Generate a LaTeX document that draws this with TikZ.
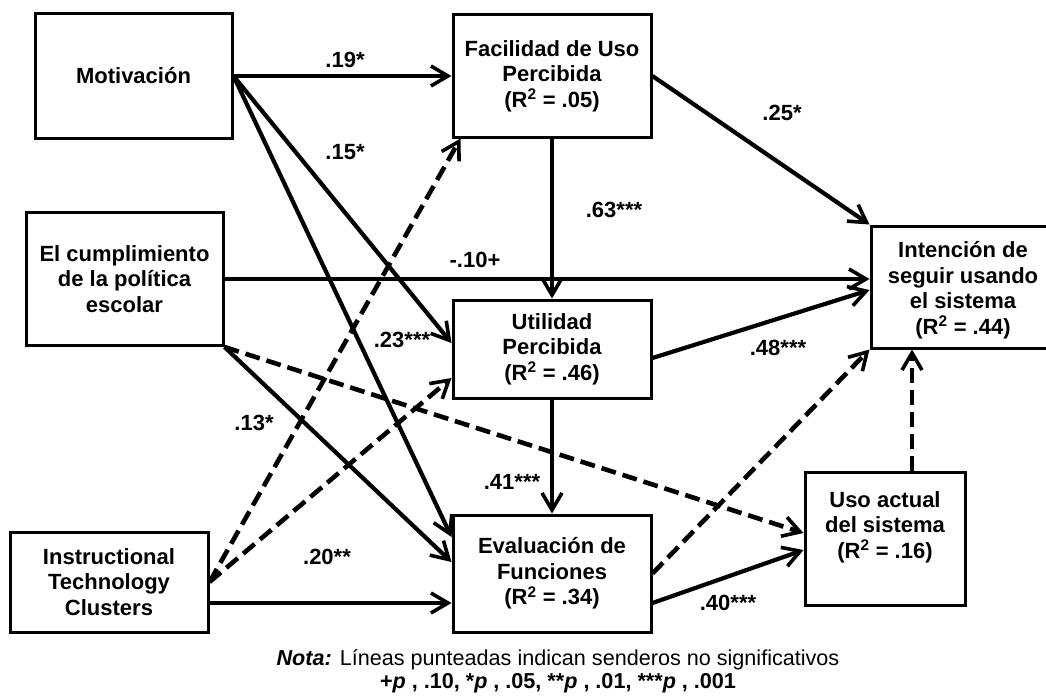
\documentclass[tikz,border=0pt]{standalone}
\usepackage{fontspec}
\setmainfont{Liberation Sans}
\usetikzlibrary{arrows.meta}
\begin{document}
\begin{tikzpicture}[x=1pt,y=-1pt,
  lbl/.style={font=\bfseries\fontsize{22}{25.5}\selectfont},
  box/.style={draw, line width=3pt, inner sep=0pt, align=center, lbl},
  txt/.style={inner sep=0pt, align=center, lbl},
  coef/.style={inner sep=0pt, lbl},
  link/.style={line width=4.2pt, -{Straight Barb[length=17pt,width=20pt,line width=3.6pt]}},
  nonsig/.style={link, line width=4.6pt, dash pattern=on 15pt off 7pt}
]
\useasboundingbox (0,0) rectangle (1046,698);

% constructs
\node[box, minimum width=197pt, minimum height=124pt] (mot) at (133.5,76) {Motivación};
\node[box, minimum width=198pt, minimum height=122pt] (fac) at (552,76) {Facilidad de Uso\\Percibida\\(R\textsuperscript{2} = .05)};
\node[box, minimum width=197pt, minimum height=133pt] (cum) at (124.5,279) {El cumplimiento\\de la política\\escolar};
\node[box, minimum width=198pt, minimum height=98pt] (uti) at (552,349) {Utilidad\\Percibida\\(R\textsuperscript{2} = .46)};
\node[box, minimum width=198pt, minimum height=117pt] (eva) at (552,573.5) {Evaluación de\\Funciones\\(R\textsuperscript{2} = .34)};
\node[box, minimum width=198pt, minimum height=100pt] (ins) at (109,582) {Instructional\\Technology\\Clusters};
\node[box, minimum width=189pt, minimum height=122pt] (int) at (965.5,287) {};
\node[txt] (inttxt) at (963,290) {Intención de\\seguir usando\\el sistema\\(R\textsuperscript{2} = .44)};
\node[box, minimum width=160pt, minimum height=133pt] (uso) at (885,538.5) {};
\node[txt] (usotxt) at (885,527) {Uso actual\\del sistema\\(R\textsuperscript{2} = .16)};

% significant paths
\draw[link] (mot.east) -- (fac.west);
\draw[link] (mot.east) -- ([yshift=6pt]uti.west);
\draw[link] (mot.east) -- ([yshift=36.5pt]eva.west);
\draw[link] (fac.south) -- (uti.north);
\draw[link] (fac.east) -- (int.north west);
\draw[link] (cum.east) -- (cum.east -| int.west);
\draw[link] (cum.south east) -- ([yshift=11.5pt]eva.west);
\draw[link] ([yshift=-9pt]uti.east) -- ([yshift=-3pt]int.west);
\draw[link] (uti.south) -- (eva.north);
\draw[link] ([yshift=-21pt]ins.east) coordinate (insout) -- (insout -| eva.west);
\draw[link] ([yshift=-29.5pt]eva.east) -- ([yshift=-11.5pt]uso.west);

% non-significant paths
\draw[nonsig] (cum.south east) -- ([yshift=5.5pt]uso.west);
\draw[nonsig] (ins.east) -- ([xshift=9pt]fac.south west);
\draw[nonsig] (ins.east) -- ([yshift=-29pt]uti.west);
\draw[nonsig] (eva.east) -- (int.south west);
\draw[nonsig] ([xshift=27pt]uso.north) coordinate (usoup) -- (usoup |- int.south);

% coefficients
\node[coef] (c19) at (345,60) {.19*};
\node[coef] (c15) at (345,152) {.15*};
\node[coef] (c23) at (402,340) {.23***};
\node[coef] (c10) at (475,260) {-.10+};
\node[coef] (c63) at (614,210) {.63***};
\node[coef] (c25) at (782,113) {.25*};
\node[coef] (c48) at (778,348) {.48***};
\node[coef] (c13) at (254,423) {.13*};
\node[coef] (c20) at (327,557) {.20**};
\node[coef] (c41) at (512,482) {.41***};
\node[coef] (c40) at (728,603) {.40***};

% note
\node[inner sep=0pt, align=center, font=\fontsize{21.6}{23}\selectfont] (nota) at (558,671.5)
  {{\bfseries\itshape Nota:} Líneas punteadas indican senderos no significativos\\
   {\bfseries +{\itshape p} , .10, *{\itshape p} , .05, **{\itshape p} , .01, ***{\itshape p} , .001}};
\end{tikzpicture}
\end{document}
